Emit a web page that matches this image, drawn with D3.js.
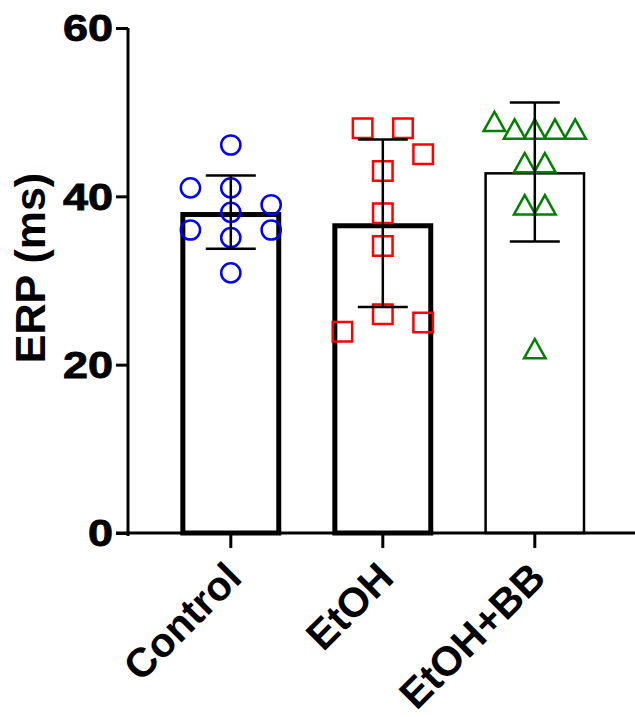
<!DOCTYPE html>
<html lang="en">
<head>
    <meta charset="UTF-8">
    <title>ERP bar chart</title>
    <script src="https://d3js.org/d3.v7.min.js"></script>
    <style>
        body{
            margin: 0;
            background: white;
        }
        text{
            font-family: "Liberation Sans", Arial, sans-serif;
            font-weight: bold;
            fill: black;
        }
    </style>
</head>
<body>
<svg id="chart" width="635" height="717"></svg>
<script>
    // data
    let groups = ["Control", "EtOH", "EtOH+BB"]
    let controlValues = [46.1, 41.0, 41.0, 39.0, 38.1, 36.0, 36.0, 35.1, 30.9]
    let etohValues = [48.1, 48.1, 45.0, 43.0, 38.0, 34.1, 26.0, 25.0, 23.9]
    let etohBBValues = [48.9, 48.0, 48.0, 48.0, 48.0, 44.0, 44.0, 39.0, 39.0, 21.9]
    // scatter column of each point (GraphPad style spread), in marker slots
    let controlSlots = [0, -2, 0, 2, 0, -2, 2, 0, 0]
    let etohSlots = [-1, 1, 2, 0, 0, 0, 0, 2, -2]
    let etohBBSlots = [-2, -1, 0, 1, 2, -0.5, 0.5, -0.5, 0.5, 0]
    let yTicks = [0, 20, 40, 60]

    let series = [
        {name: groups[0], values: controlValues, slots: controlSlots, color: "#0000ff", shape: "circle", bar: 5},
        {name: groups[1], values: etohValues, slots: etohSlots, color: "#ff0000", shape: "square", bar: 5},
        {name: groups[2], values: etohBBValues, slots: etohBBSlots, color: "#008000", shape: "triangle", bar: 2.5}
    ]

    let svg = d3.select("#chart")
    let axisLeft = 128
    let yScale = d3.scaleLinear().domain([0, 60]).range([533, 28])
    let xScale = d3.scaleBand().domain(groups)
        .range([154.8, 610.8]).paddingInner(0.336).paddingOuter(0.168)
    let bw = xScale.bandwidth()
    let slotScale = d3.scaleLinear().domain([-2.5, 2.5]).range([-bw / 2, bw / 2])

    // triangle drawn centred on its bounding box
    let triangleBox = {
        draw(context, size) {
            let s = Math.sqrt(size)
            let h = s * 0.9
            context.moveTo(0, -h / 2)
            context.lineTo(s / 2, h / 2)
            context.lineTo(-s / 2, h / 2)
            context.closePath()
        }
    }
    let shapes = {
        circle: d3.symbol(d3.symbolCircle, Math.PI * 9.6 * 9.6),
        square: d3.symbol(d3.symbolSquare, 19.5 * 19.5),
        triangle: d3.symbol(triangleBox, 21.5 * 21.5)
    }

    // bars (border drawn inside the bar)
    series.forEach(s => {
        let m = d3.mean(s.values)
        let x = xScale(s.name)
        svg.append("rect")
            .attr("x", x + s.bar / 2)
            .attr("y", yScale(m) + s.bar / 2)
            .attr("width", bw - s.bar)
            .attr("height", yScale(0) - yScale(m) - s.bar / 2)
            .attr("fill", "white")
            .attr("stroke", "black")
            .attr("stroke-width", s.bar)
    })

    // points
    series.forEach(s => {
        let cx = xScale(s.name) + bw / 2
        svg.append("g").selectAll("path")
            .data(s.values)
            .enter()
            .append("path")
            .attr("d", shapes[s.shape])
            .attr("transform", (d, i) => `translate(${cx + slotScale(s.slots[i])},${yScale(d)})`)
            .attr("fill", "none")
            .attr("stroke", s.color)
            .attr("stroke-width", 2.5)
    })

    // mean +/- SD error bars
    series.forEach(s => {
        let m = d3.mean(s.values)
        let sd = d3.deviation(s.values)
        let cx = xScale(s.name) + bw / 2
        let g = svg.append("g").attr("stroke", "black").attr("stroke-width", 2.5)
        g.append("line").attr("x1", cx).attr("x2", cx)
            .attr("y1", yScale(m + sd)).attr("y2", yScale(m - sd))
        ;[m + sd, m - sd].forEach(v => {
            g.append("line").attr("x1", cx - 25).attr("x2", cx + 25)
                .attr("y1", yScale(v)).attr("y2", yScale(v))
        })
    })

    // y axis
    let yAxis = d3.axisLeft(yScale).tickValues(yTicks).tickSize(12).tickSizeOuter(0).tickPadding(3)
    let yg = svg.append("g").attr("transform", `translate(${axisLeft},0)`).call(yAxis)
    yg.select(".domain").attr("stroke-width", 3).attr("d", `M0,${yScale(60)}V${yScale(0) + 3}`)
    yg.selectAll(".tick line").attr("stroke-width", 3)
    yg.selectAll(".tick text")
        .style("font-size", "36px")
        .attr("dy", "0.36em")
        .attr("stroke", "black")
        .attr("stroke-width", 0.8)
        .attr("transform", function () {
            let x = +d3.select(this).attr("x")
            return `translate(${x},0) scale(1.25,1) translate(${-x},0)`
        })

    // x axis
    let xAxis = d3.axisBottom(xScale).tickSize(15).tickSizeOuter(0).tickFormat("")
    let xg = svg.append("g").attr("transform", `translate(0,${yScale(0)})`).call(xAxis)
    xg.select(".domain").attr("stroke-width", 3).attr("d", `M${axisLeft - 12},0H635`)
    xg.selectAll(".tick line").attr("stroke-width", 3)

    svg.append("g").selectAll("text")
        .data(groups)
        .enter()
        .append("text")
        .attr("transform", d => `translate(${xScale(d) + bw / 2 + 13},580) rotate(-45)`)
        .attr("text-anchor", "end")
        .style("font-size", "41px")
        .text(d => d)

    svg.append("text")
        .attr("transform", "translate(45,268) rotate(-90)")
        .attr("text-anchor", "middle")
        .style("font-size", "43px")
        .text("ERP (ms)")
</script>
</body>
</html>
